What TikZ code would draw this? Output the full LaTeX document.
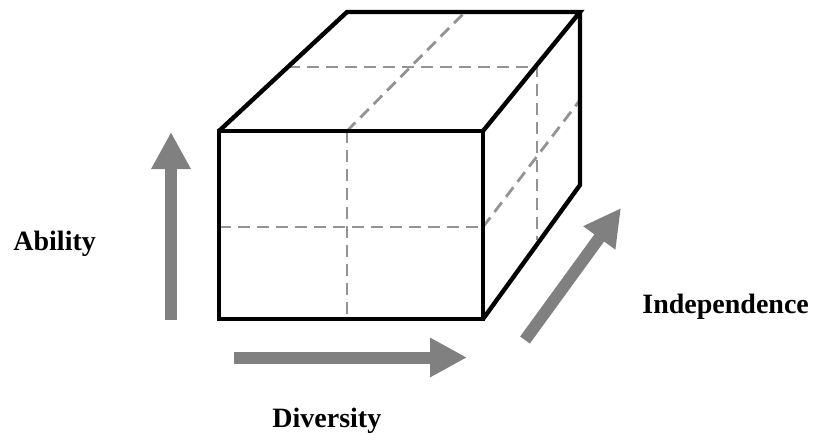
\documentclass[tikz,border=0pt]{standalone}
\usepackage{fontspec}
\setmainfont{Liberation Serif}
\usetikzlibrary{arrows.meta}

\begin{document}
\begin{tikzpicture}[x=0.5pt,y=-0.5pt,
  edge/.style={line width=2.2pt,line join=miter},
  guide/.style={gray!85,line width=1.4pt,dash pattern=on 6pt off 3.5pt},
  axis/.style={gray,line width=6pt,-{Triangle[length=18.5pt,width=18.5pt]}},
  lbl/.style={font=\fontsize{14}{16}\selectfont\bfseries,anchor=base west,inner sep=0pt}]
  \useasboundingbox (0,0) rectangle (825,441);
  % cube corners (front face, back face)
  \coordinate (ftl) at (219,131);
  \coordinate (ftr) at (483,131);
  \coordinate (fbr) at (483,319);
  \coordinate (fbl) at (219,319);
  \coordinate (btl) at (347,12);
  \coordinate (btr) at (580,12);
  \coordinate (bbr) at (580,185);
  % hidden split lines
  \draw[guide] (347,131) -- (347,319);
  \draw[guide] (219,227) -- (483,227);
  \draw[guide] (347,131) -- (465,12);
  \draw[guide] (288,67) -- (537,67) -- (537,240);
  \draw[guide] (483,227) -- (580,100);
  % visible edges
  \draw[edge] (ftl) rectangle (fbr);
  \draw[edge] (ftl) -- (btl) -- (btr) -- (ftr);
  \draw[edge] (btr) -- (bbr) -- (fbr);
  % axes
  \coordinate (upS) at (171,320);
  \coordinate (upE) at (171,132);
  \coordinate (rtS) at (234,357.5);
  \coordinate (rtE) at (467,357.5);
  \coordinate (dgS) at (525,340);
  \coordinate (dgE) at (621,208);
  \draw[axis] (upS) -- (upE);
  \draw[axis] (rtS) -- (rtE);
  \draw[axis] (dgS) -- (dgE);
  \node[lbl] (ability) at (13,250) {Ability};
  \node[lbl] (diversity) at (272,427) {Diversity};
  \node[lbl] (independence) at (642,313) {Independence};
\end{tikzpicture}
\end{document}
